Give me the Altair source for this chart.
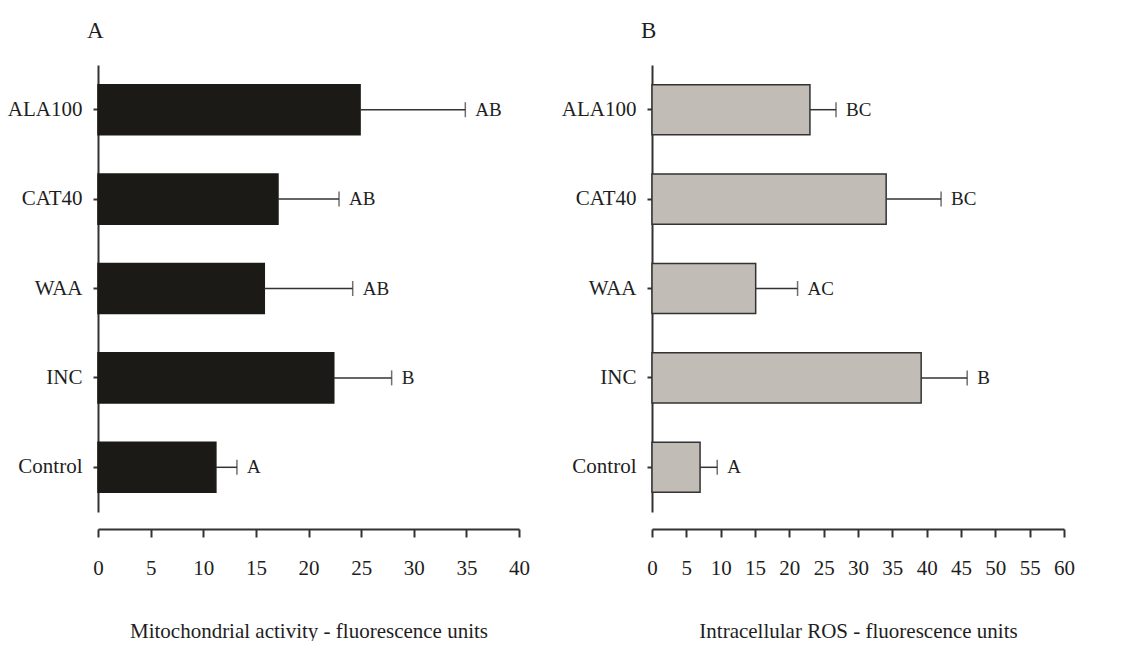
import altair as alt
import pandas as pd

categories = ["ALA100", "CAT40", "WAA", "INC", "Control"]

mito_mean = [24.9, 17.1, 15.8, 22.4, 11.2]
mito_se = [10.0, 5.8, 8.4, 5.5, 2.0]
mito_letters = ["AB", "AB", "AB", "B", "A"]

ros_mean = [23.0, 34.1, 15.1, 39.2, 7.0]
ros_se = [3.8, 8.0, 6.1, 6.7, 2.5]
ros_letters = ["BC", "BC", "AC", "B", "A"]

FONT = "Liberation Serif"
INK = "#1e1e1e"
LINE = "#333333"


def panel(mean, se, letters, xmax, width, xtitle, panel_letter, fill, stroke):
    df = pd.DataFrame({
        "cat": categories,
        "mean": mean,
        "hi": [m + s for m, s in zip(mean, se)],
        "letter": letters,
    })
    yaxis = alt.Axis(title=None, tickSize=5, labelPadding=11, labelFontSize=21)
    yscale = alt.Scale(paddingInner=0.44, paddingOuter=0.22)
    xscale = alt.Scale(domain=[0, xmax], nice=False, zero=True)
    ticks = list(range(0, xmax + 1, 5))
    xaxis = alt.Axis(values=ticks, tickCount=len(ticks), offset=17, tickSize=8,
                     labelPadding=20, labelOverlap=False, labelFlush=False,
                     labelSeparation=0, title=xtitle, titlePadding=42,
                     labelFontSize=21, titleFontSize=21)

    def Y():
        return alt.Y("cat:N", sort=categories, scale=yscale, axis=yaxis)

    def X(field):
        return alt.X(field, scale=xscale, axis=xaxis, title=xtitle)

    base = alt.Chart(df)
    bars = base.mark_bar(fill=fill, stroke=stroke, strokeWidth=1.5).encode(x=X("mean:Q"), y=Y())
    rule = base.mark_rule(color=LINE, strokeWidth=1.5).encode(
        x=X("mean:Q"), x2="hi:Q", y=Y())
    cap = base.mark_tick(color=LINE, thickness=1.5, size=15, orient="vertical").encode(
        x=X("hi:Q"), y=Y())
    text = base.mark_text(align="left", baseline="middle", dx=10, font=FONT,
                          fontSize=19, color=INK).encode(
        x=X("hi:Q"), y=Y(), text="letter:N")
    label = alt.Chart(alt.Data(values=[{"t": panel_letter}])).mark_text(
        align="left", baseline="alphabetic", font=FONT, fontSize=23, color=INK
    ).encode(x=alt.value(-11), y=alt.value(-27), text="t:N")
    return alt.layer(bars, rule, cap, text, label).properties(width=width, height=447)


chart_a = panel(mito_mean, mito_se, mito_letters, 40, 421,
                "Mitochondrial activity - fluorescence units", "A", "#1b1a16", "#1b1a16")
chart_b = panel(ros_mean, ros_se, ros_letters, 60, 412,
                "Intracellular ROS - fluorescence units", "B", "#c2bcb7", LINE)

chart = alt.hconcat(chart_a, chart_b, spacing=133, bounds="flush").properties(
    padding={"left": 7, "top": 20, "right": 0, "bottom": 0},
    background="white",
).configure_view(stroke=None).configure_axis(
    domainColor=LINE, domainWidth=2, tickColor=LINE, tickWidth=2,
    labelFont=FONT, titleFont=FONT, labelColor=INK, titleColor=INK,
    titleFontWeight="normal", grid=False, labelOverlap=False,
)

chart.save("out.html", embed_options={"renderer": "svg", "actions": False})
